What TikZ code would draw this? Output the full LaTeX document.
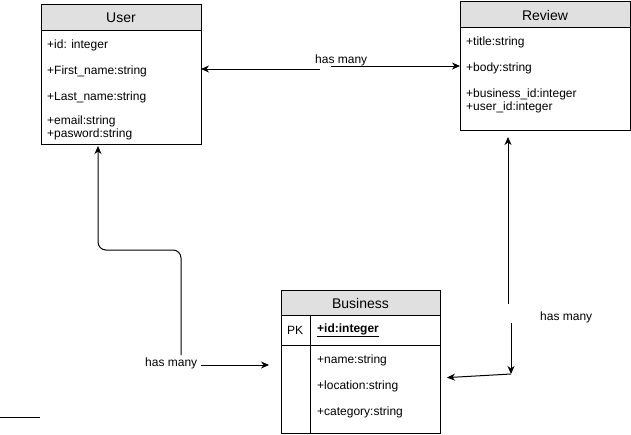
\documentclass[tikz,border=0pt]{standalone}
\usepackage{fontspec}
\setmainfont{Liberation Sans}
\usetikzlibrary{arrows.meta}
\definecolor{headgrey}{HTML}{E0E0E0}
\begin{document}
\begin{tikzpicture}[x=1pt,y=-1pt,
  box/.style={draw, line width=1pt, anchor=north west, inner sep=0pt, outer sep=0pt},
  head/.style={box, fill=headgrey},
  lbl/.style={anchor=west, inner sep=0pt, yshift=-1pt, font=\fontsize{12}{14}\selectfont},
  htxt/.style={inner sep=0pt, yshift=-1pt, font=\fontsize{14}{16}\selectfont},
  conn/.style={line width=1pt, -{Stealth[length=8pt,width=7pt,inset=2.5pt]}},
  plain/.style={line width=1pt}]
\useasboundingbox (0,0) rectangle (631,434);
% User
\node[head, minimum width=160pt, minimum height=26pt] (userhead) at (41,4) {};
\node[box, minimum width=160pt, minimum height=114pt] (userbody) at (41,30) {};
\node[htxt] (usertitle) at (userhead.center) {User};
\node[lbl] (u1) at (47,44) {+id: integer};
\node[lbl] (u2) at (47,70) {+First\_name:string};
\node[lbl] (u3) at (47,96) {+Last\_name:string};
\node[lbl] (u4) at (47,120) {+email:string};
\node[lbl] (u5) at (47,133) {+pasword:string};
% Review
\node[head, minimum width=170pt, minimum height=26pt] (reviewhead) at (460,1) {};
\node[box, minimum width=170pt, minimum height=103pt] (reviewbody) at (460,27) {};
\node[htxt] (reviewtitle) at (reviewhead.center) {Review};
\node[lbl] (r1) at (466,41) {+title:string};
\node[lbl] (r2) at (466,67) {+body:string};
\node[lbl] (r3) at (466,93) {+business\_id:integer};
\node[lbl] (r4) at (466,106) {+user\_id:integer};
% Business
\node[head, minimum width=159pt, minimum height=25pt] (bushead) at (281,290) {};
\node[box, minimum width=159pt, minimum height=30pt] (pkrow) at (281,315) {};
\node[box, minimum width=159pt, minimum height=88pt] (busbody) at (281,345) {};
\node[box, minimum width=29pt, minimum height=118pt] (pkcol) at (281,315) {};
\node[htxt] (bustitle) at (bushead.center) {Business};
\node[inner sep=0pt, yshift=-1pt, font=\fontsize{12}{14}\selectfont] (pk) at (295,329) {PK};
\node[lbl] (b0) at (317,329) {\bfseries\underline{+id:integer}};
\node[lbl] (b1) at (317,359) {+name:string};
\node[lbl] (b2) at (317,385) {+location:string};
\node[lbl] (b3) at (317,411) {+category:string};
% User -- Review
\node[lbl] (hm1) at (315,59) {has many};
\coordinate (a1) at (320,69);
\coordinate (a2) at (331,66);
\draw[conn] (a1) -- (userbody.east |- a1);
\draw[conn] (a2) -- (reviewbody.west |- a2);
% User -- Business
\node[lbl] (hm2) at (145,362) {has many};
\coordinate (b2s) at (181,355);
\coordinate (b1s) at (201,365);
\draw[conn, rounded corners=8pt, shorten >=2pt] (b2s) -- (181,250) -- (98,250) -- (userbody.south -| 98,0);
\draw[conn, shorten >=12pt] (b1s) -- (pkcol.west |- b1s);
% Review -- Business
\node[lbl] (hm3) at (540,316) {has many};
\coordinate (c1) at (508,304);
\coordinate (c2) at (511,323);
\coordinate (c3) at (511,374);
\coordinate (c4) at (440,378);
\draw[conn, shorten >=7pt] (c1) -- (reviewbody.south -| c1);
\draw[conn] (c2) -- (c3);
\draw[conn, shorten >=7pt] (c3) -- (c4);
% stray line
\coordinate (d1) at (0,417);
\coordinate (d2) at (40,417);
\draw[plain] (d1) -- (d2);
\end{tikzpicture}
\end{document}
